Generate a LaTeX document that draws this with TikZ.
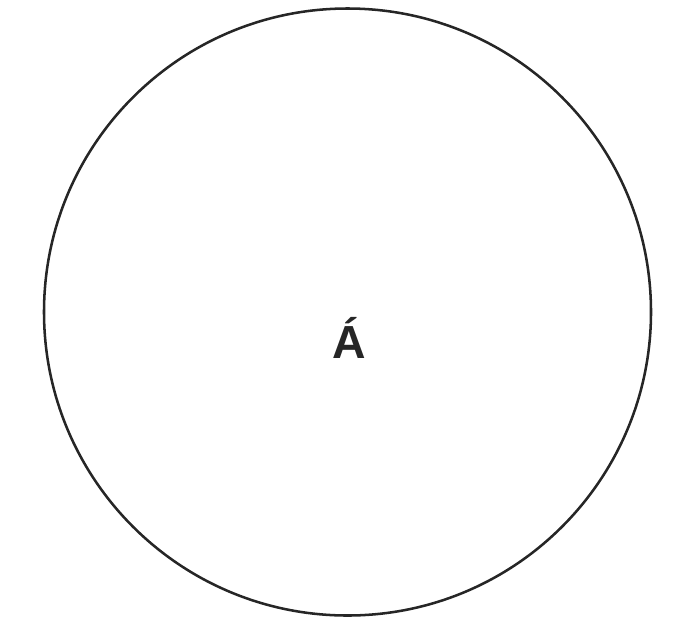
\documentclass[tikz,border=0pt]{standalone}
\usepackage{fontspec}
\setmainfont{Liberation Sans}
\usetikzlibrary{positioning}

\begin{document}
\begin{tikzpicture}[
    x=0.025cm,
    y=-0.025cm,
    set/.style={
        circle,
        draw=black!85,
        line width=1.8pt,
        minimum size=607*0.025cm,
        inner sep=0pt
    },
    letter/.style={
        font=\fontsize{33}{38}\selectfont\bfseries,
        text=black!85,
        inner sep=0pt
    }
]
\useasboundingbox (0,0) rectangle (696,626);

% =========================================================
% Circle and label
% =========================================================
\node[set] (circ) at (347.5,312) {};
\node[letter, anchor=base] (lbl) at (349,358) {Á};

\end{tikzpicture}
\end{document}
